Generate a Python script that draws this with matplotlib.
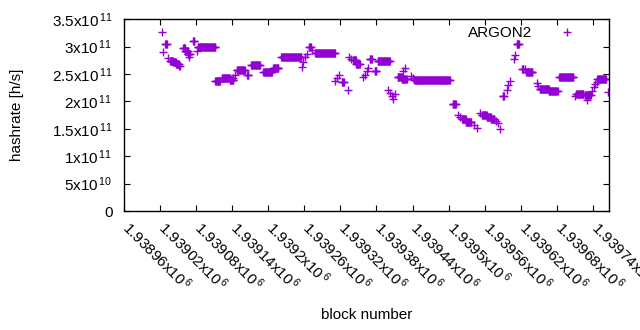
import numpy as np
import matplotlib
matplotlib.use('Agg')
import matplotlib.pyplot as plt
import matplotlib.transforms as mtransforms
from matplotlib.ticker import FixedLocator, FuncFormatter

plt.rcParams['font.family'] = ['Liberation Sans', 'DejaVu Sans']
plt.rcParams['mathtext.fontset'] = 'custom'
plt.rcParams['mathtext.rm'] = 'Liberation Sans'

# runs of blocks with a constant hashrate estimate (first block, last block, value in 1e11 h/s)
run_start = [1939029, 1939037, 1939042, 1939047, 1939052, 1939059, 1939062, 1939066,
             1939075, 1939083, 1939112, 1939123, 1939136, 1939148, 1939165, 1939172,
             1939192, 1939208, 1939222, 1939268, 1939278, 1939323, 1939341, 1939346,
             1939369, 1939377, 1939382, 1939415, 1939422, 1939443, 1939507, 1939522,
             1939528, 1939556, 1939563, 1939570, 1939590, 1939613, 1939622, 1939629,
             1939651, 1939666, 1939684, 1939712, 1939726, 1939747]
run_end = [1939032, 1939042, 1939047, 1939052, 1939053, 1939062, 1939066, 1939070,
           1939077, 1939112, 1939120, 1939136, 1939142, 1939161, 1939167, 1939186,
           1939206, 1939217, 1939255, 1939271, 1939311, 1939326, 1939346, 1939352,
           1939372, 1939380, 1939402, 1939422, 1939430, 1939502, 1939512, 1939528,
           1939537, 1939563, 1939570, 1939576, 1939592, 1939617, 1939624, 1939639,
           1939666, 1939681, 1939707, 1939724, 1939736, 1939761]
run_value = [3.04, 2.74, 2.72, 2.68, 2.65, 2.97, 2.92, 2.875,
             3.10, 2.99, 2.374, 2.434, 2.386, 2.574, 2.478, 2.666,
             2.532, 2.616, 2.817, 2.989, 2.879, 2.35, 2.748, 2.693,
             2.77, 2.551, 2.733, 2.447, 2.41, 2.386, 1.948, 1.68,
             1.634, 1.744, 1.716, 1.671, 2.10, 3.044, 2.587, 2.529,
             2.228, 2.20, 2.441, 2.136, 2.109, 2.404]

# single blocks off the runs
single_block = [1939023, 1939026, 1939034, 1939069, 1939081, 1939142, 1939145,
                1939256, 1939258, 1939261, 1939264, 1939273, 1939311, 1939314,
                1939318, 1939332, 1939335, 1939338, 1939357, 1939361, 1939364,
                1939366, 1939399, 1939403, 1939406, 1939408, 1939411, 1939424,
                1939428, 1939438, 1939441, 1939516, 1939519, 1939542, 1939547,
                1939552, 1939555, 1939579, 1939582, 1939585, 1939597, 1939599,
                1939602, 1939608, 1939610, 1939627, 1939646, 1939649, 1939710,
                1939730, 1939738, 1939741, 1939743, 1939746, 1939765]
single_value = [3.263, 2.909, 2.793, 2.817, 2.927, 2.428, 2.483,
                2.635, 2.726, 2.806, 2.866, 2.94, 2.374, 2.428,
                2.478, 2.209, 2.806, 2.784, 2.441, 2.483, 2.556,
                2.611, 2.209, 2.154, 2.10, 2.045, 2.136, 2.556,
                2.611, 2.47, 2.428, 1.753, 1.716, 1.570, 1.521,
                1.789, 1.753, 1.643, 1.607, 1.503, 2.209, 2.30,
                2.374, 2.77, 2.848, 2.587, 2.332, 2.282, 2.10,
                2.027, 2.191, 2.27, 2.319, 2.364, 2.178]

x_ticks = np.arange(1938960, 1939770, 60)
y_ticks = [0, 0.5e11, 1e11, 1.5e11, 2e11, 2.5e11, 3e11, 3.5e11]

blocks = []
rates = []
for s, e, v in zip(run_start, run_end, run_value):
    b = np.arange(s, e + 1)
    blocks.append(b)
    rates.append(np.full(len(b), v * 1e11))
blocks.append(np.array(single_block))
rates.append(np.array(single_value) * 1e11)
blocks = np.concatenate(blocks)
rates = np.concatenate(rates)
order = np.argsort(blocks)


def sci(v, pos=None):
    # gnuplot style "2.5x10^11" labels
    if v == 0:
        return '0'
    exp = int(np.floor(np.log10(abs(v))))
    mant = ('%g' % (v / 10 ** exp))
    return r'$\mathregular{%sx10^{\,%d}}$' % (mant, exp)


fig = plt.figure(figsize=(6.4, 3.3), dpi=100)
ax = fig.add_axes([0.1933, 0.3606, 0.7588, 0.5809])
color = '#9400D3'
ax.plot(blocks[order], rates[order], linestyle='none', marker='+',
        markersize=6, markeredgewidth=1.0, color=color, label='ARGON2')

ax.set_xlim(1938960, 1939767)
ax.set_ylim(0, 3.5e11)
ax.xaxis.set_major_locator(FixedLocator(x_ticks))
ax.yaxis.set_major_locator(FixedLocator(y_ticks))
ax.xaxis.set_major_formatter(FuncFormatter(sci))
ax.yaxis.set_major_formatter(FuncFormatter(sci))
ax.tick_params(direction='in', length=4.5, width=0.8, top=True, right=True,
               labelsize=11, colors='black')
ax.tick_params(axis='y', pad=8)
ax.tick_params(axis='x', pad=4)
shift = mtransforms.ScaledTranslation(8 / 100, -1 / 100, fig.dpi_scale_trans)
for lbl in ax.get_xticklabels():
    lbl.set_rotation(-45)
    lbl.set_ha('left')
    lbl.set_va('top')
    lbl.set_rotation_mode('anchor')
    lbl.set_transform(lbl.get_transform() + shift)
for sp in ax.spines.values():
    sp.set_linewidth(1.0)

ax.set_xlabel('block number', fontsize=11)
ax.set_ylabel('hashrate [h/s]', fontsize=11)
ax.xaxis.set_label_coords(0.5, -0.505)
ax.yaxis.set_label_coords(-0.205, 0.5)

ax.legend(loc='upper right', bbox_to_anchor=(0.945, 0.965), frameon=False,
          markerfirst=False, fontsize=11, handlelength=2.0,
          handletextpad=1.3, borderpad=0, borderaxespad=0)

fig.savefig('out.png', dpi=100)
